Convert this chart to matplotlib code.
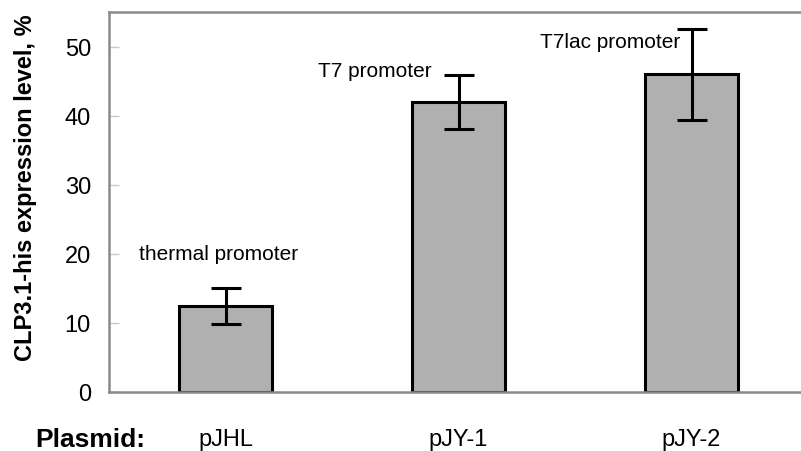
import matplotlib
matplotlib.use("Agg")
import matplotlib.pyplot as plt
import matplotlib.transforms as mtransforms

plt.rcParams['font.family'] = ['Liberation Sans', 'DejaVu Sans']

plasmids = ["pJHL", "pJY-1", "pJY-2"]
expression = [12.4, 42.0, 46.0]
err_low = [2.5, 4.0, 6.6]
err_high = [2.6, 3.9, 6.5]
promoters = ["thermal promoter", "T7 promoter", "T7lac promoter"]
label_pos = [(-0.03, 20.0), (0.64, 46.6), (1.65, 50.8)]
yticks = [0, 10, 20, 30, 40, 50]

fig = plt.figure(figsize=(8.01, 4.52), dpi=100)
ax = fig.add_axes([109/801, 59/452, 1 - 109/801, 380/452])

x = list(range(len(plasmids)))
ax.bar(x, expression, width=0.40, color='#b0b0b0', edgecolor='black',
       linewidth=2.2, zorder=2)
ax.errorbar(x, expression, yerr=[err_low, err_high], fmt='none',
            ecolor='black', elinewidth=2.2, capsize=11, capthick=2.2, zorder=3)

for txt, (tx, ty) in zip(promoters, label_pos):
    ax.text(tx, ty, txt, ha='center', va='center', fontsize=15)

ax.set_xlim(-0.5, (801 - 109) / 233 - 0.5)
ax.set_ylim(0, 55)
ax.set_yticks(yticks)
ax.set_yticklabels([str(t) for t in yticks], fontsize=17)
ax.tick_params(axis='y', direction='in', length=7, width=1, color='#c8c8c8', pad=13)
ax.set_xticks([])

for side in ('left', 'top', 'bottom'):
    ax.spines[side].set_color('#8a8a8a')
    ax.spines[side].set_linewidth(1.8)
ax.spines['right'].set_visible(False)

fig.text(26/801, 1 - 188/452, "CLP3.1-his expression level, %", rotation=90,
         ha='center', va='center', fontsize=17, fontweight='bold')

trans = mtransforms.blended_transform_factory(ax.transData, fig.transFigure)
for xi, name in zip(x, plasmids):
    ax.text(xi, 1 - 440/452, name, transform=trans, ha='center', va='center',
            fontsize=17)
fig.text(35/801, 1 - 440/452, "Plasmid:", ha='left', va='center',
         fontsize=19, fontweight='bold')

fig.savefig("out.png", dpi=100)
